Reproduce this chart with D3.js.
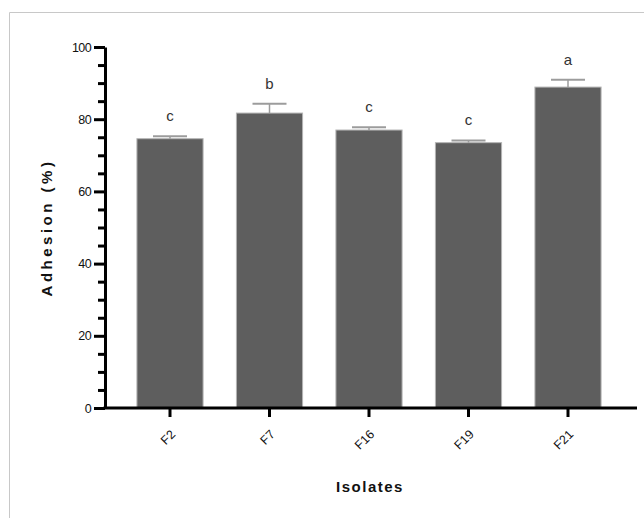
<!DOCTYPE html>
<html>
<head>
<meta charset="utf-8">
<script src="https://cdn.jsdelivr.net/npm/d3@7"></script>
<style>
  body { margin: 0; background: #fff; }
  svg { display: block; }
</style>
</head>
<body>
<div id="chart"></div>
<script>
// data
var isolates = ["F2", "F7", "F16", "F19", "F21"];
var adhesion = [74.6, 81.7, 77.0, 73.5, 88.9];
var errors = [0.7, 2.6, 0.8, 0.6, 2.0];
var letters = ["c", "b", "c", "c", "a"];
var yTicks = [0, 20, 40, 60, 80, 100];
var yMinorTicks = [5, 10, 15, 25, 30, 35, 45, 50, 55, 65, 70, 75, 85, 90, 95];

var W = 644, H = 518;
var axisLeft = 105, axisRight = 637, yTop = 47, yBottom = 408;

var svg = d3.select("#chart").append("svg")
  .attr("width", W)
  .attr("height", H);

// outer frame
svg.append("path")
  .attr("d", "M9.5," + (H + 2) + "V12.5H" + (W + 2))
  .attr("fill", "none")
  .attr("stroke", "#c8c8c8")
  .attr("stroke-width", 1);

var x = d3.scaleBand()
  .domain(isolates)
  .range([120.25, 617.75])
  .paddingInner(0.335)
  .paddingOuter(0.1675);

var y = d3.scaleLinear()
  .domain([0, 100])
  .range([yBottom, yTop]);

var rows = isolates.map(function (d, i) {
  return {name: d, value: adhesion[i], err: errors[i], letter: letters[i]};
});

// bars
svg.append("g").selectAll("rect")
  .data(rows)
  .enter().append("rect")
  .attr("x", d => x(d.name))
  .attr("y", d => y(d.value))
  .attr("width", x.bandwidth())
  .attr("height", d => yBottom - y(d.value))
  .attr("fill", "#5e5e5e")
  .attr("stroke", "#b4b4b4")
  .attr("stroke-width", 1);

// error bars (upper only)
var eb = svg.append("g").selectAll("g")
  .data(rows)
  .enter().append("g");

eb.append("line")
  .attr("x1", d => x(d.name) + x.bandwidth() / 2)
  .attr("x2", d => x(d.name) + x.bandwidth() / 2)
  .attr("y1", d => y(d.value))
  .attr("y2", d => y(d.value + d.err))
  .attr("stroke", "#9c9c9c")
  .attr("stroke-width", 1.5);

eb.append("line")
  .attr("x1", d => x(d.name) + x.bandwidth() / 2 - 17)
  .attr("x2", d => x(d.name) + x.bandwidth() / 2 + 17)
  .attr("y1", d => y(d.value + d.err))
  .attr("y2", d => y(d.value + d.err))
  .attr("stroke", "#9c9c9c")
  .attr("stroke-width", 2);

// significance letters
svg.append("g").selectAll("text")
  .data(rows)
  .enter().append("text")
  .attr("x", d => x(d.name) + x.bandwidth() / 2)
  .attr("y", d => y(d.value + d.err) - 15)
  .attr("text-anchor", "middle")
  .style("font-family", "'Liberation Sans', Arial, sans-serif")
  .style("font-size", "15px")
  .style("fill", "#333")
  .text(d => d.letter);

// y axis: minor ticks
svg.append("g")
  .attr("transform", "translate(" + axisLeft + ",0)")
  .call(d3.axisLeft(y).tickValues(yMinorTicks).tickSize(7).tickSizeOuter(0).tickFormat(""))
  .call(g => g.select(".domain").remove())
  .selectAll("line")
  .attr("stroke", "#000")
  .attr("stroke-width", 3);

// y axis: major ticks
var yAxis = svg.append("g")
  .attr("transform", "translate(" + axisLeft + ",0)")
  .call(d3.axisLeft(y).tickValues(yTicks).tickSize(11).tickSizeOuter(0).tickPadding(3));
yAxis.select(".domain").attr("stroke", "#000").attr("stroke-width", 3);
yAxis.selectAll(".tick line").attr("stroke", "#000").attr("stroke-width", 3);
yAxis.selectAll(".tick text")
  .style("font-family", "'Liberation Sans', Arial, sans-serif")
  .style("font-size", "12.5px")
  .style("letter-spacing", "-0.6px")
  .attr("fill", "#111");

// x axis
var xAxis = svg.append("g")
  .attr("transform", "translate(0," + yBottom + ")")
  .call(d3.axisBottom(x).tickSize(9).tickSizeOuter(0));
xAxis.select(".domain")
  .attr("d", "M" + (axisLeft - 1.5) + ",0H" + axisRight)
  .attr("stroke", "#000")
  .attr("stroke-width", 3);
xAxis.selectAll(".tick line").attr("stroke", "#000").attr("stroke-width", 3);
xAxis.selectAll(".tick text")
  .style("font-family", "'Liberation Sans', Arial, sans-serif")
  .style("font-size", "12.5px")
  .attr("fill", "#111")
  .attr("text-anchor", "end")
  .attr("y", 0)
  .attr("dy", "0.35em")
  .attr("transform", "translate(3,24) rotate(-45)");

// axis titles
svg.append("text")
  .attr("transform", "translate(52," + ((yTop + yBottom) / 2) + ") rotate(-90)")
  .attr("text-anchor", "middle")
  .style("font-family", "'Liberation Sans', Arial, sans-serif")
  .style("font-size", "15px")
  .style("font-weight", "bold")
  .style("letter-spacing", "3.5px")
  .attr("fill", "#111")
  .text("Adhesion (%)");

svg.append("text")
  .attr("x", 370)
  .attr("y", 492)
  .attr("text-anchor", "middle")
  .style("font-family", "'Liberation Sans', Arial, sans-serif")
  .style("font-size", "15px")
  .style("font-weight", "bold")
  .style("letter-spacing", "1.5px")
  .attr("fill", "#111")
  .text("Isolates");
</script>
</body>
</html>
